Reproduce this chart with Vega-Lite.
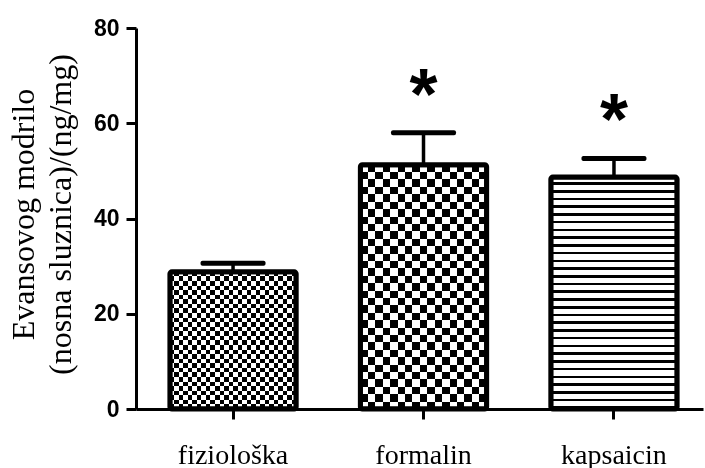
{
"$schema": "https://vega.github.io/schema/vega-lite/v6.json",
"width": 567,
"height": 381,
"autosize": {"type": "none"},
"padding": {"left": 136, "top": 28, "right": 2, "bottom": 59},
"background": "white",
"config": {
  "view": {"stroke": null},
  "axis": {"domainColor": "black", "domainWidth": 3, "tickColor": "black", "tickWidth": 3, "tickSize": 10, "grid": false, "labelColor": "black", "titleColor": "black"},
  "axisX": {"labelAngle": 0, "labelFont": "Liberation Serif", "labelFontSize": 28, "labelFontWeight": "normal", "labelBaseline": "alphabetic", "labelPadding": 44},
  "axisY": {"labelFont": "Liberation Sans", "labelFontSize": 23, "labelFontWeight": "bold", "labelPadding": 7, "titleFont": "Liberation Serif", "titleFontSize": 32, "titleFontWeight": "normal", "titleAngle": -90, "titleX": -103, "titleY": 186, "titleAlign": "center", "titleBaseline": "alphabetic", "titleLineHeight": 37}
},
"data": {"values": [
  {"cat": "fiziološka", "value": 28.8, "hi": 30.6, "star": ""},
  {"cat": "formalin", "value": 51.3, "hi": 58.0, "star": "*"},
  {"cat": "kapsaicin", "value": 48.7, "hi": 52.6, "star": "*"}
]},
"encoding": {
  "x": {"field": "cat", "type": "nominal", "sort": null,
    "scale": {"paddingInner": 0.337, "paddingOuter": 0.157, "align": 0.567},
    "axis": {"title": null}},
  "y": {"field": "value", "type": "quantitative", "scale": {"domain": [0, 80], "nice": false},
    "axis": {"title": ["Evansovog modrilo", "(nosna sluznica)/(ng/mg)"], "values": [0, 20, 40, 60, 80]}}
},
"layer": [
  {"transform": [{"filter": "datum.cat == 'fiziološka'"}],
   "mark": {"type": "bar", "fill": {"gradient": "linear", "x1": 0, "y1": 0, "x2": 0, "y2": 1, "stops": [{"offset":0,"color":"#000"},{"offset":0.0333,"color":"#000"},{"offset":0.0333,"color":"#fff"},{"offset":0.0667,"color":"#fff"},{"offset":0.0667,"color":"#000"},{"offset":0.1,"color":"#000"},{"offset":0.1,"color":"#fff"},{"offset":0.1333,"color":"#fff"},{"offset":0.1333,"color":"#000"},{"offset":0.1667,"color":"#000"},{"offset":0.1667,"color":"#fff"},{"offset":0.2,"color":"#fff"},{"offset":0.2,"color":"#000"},{"offset":0.2333,"color":"#000"},{"offset":0.2333,"color":"#fff"},{"offset":0.2667,"color":"#fff"},{"offset":0.2667,"color":"#000"},{"offset":0.3,"color":"#000"},{"offset":0.3,"color":"#fff"},{"offset":0.3333,"color":"#fff"},{"offset":0.3333,"color":"#000"},{"offset":0.3667,"color":"#000"},{"offset":0.3667,"color":"#fff"},{"offset":0.4,"color":"#fff"},{"offset":0.4,"color":"#000"},{"offset":0.4333,"color":"#000"},{"offset":0.4333,"color":"#fff"},{"offset":0.4667,"color":"#fff"},{"offset":0.4667,"color":"#000"},{"offset":0.5,"color":"#000"},{"offset":0.5,"color":"#fff"},{"offset":0.5333,"color":"#fff"},{"offset":0.5333,"color":"#000"},{"offset":0.5667,"color":"#000"},{"offset":0.5667,"color":"#fff"},{"offset":0.6,"color":"#fff"},{"offset":0.6,"color":"#000"},{"offset":0.6333,"color":"#000"},{"offset":0.6333,"color":"#fff"},{"offset":0.6667,"color":"#fff"},{"offset":0.6667,"color":"#000"},{"offset":0.7,"color":"#000"},{"offset":0.7,"color":"#fff"},{"offset":0.7333,"color":"#fff"},{"offset":0.7333,"color":"#000"},{"offset":0.7667,"color":"#000"},{"offset":0.7667,"color":"#fff"},{"offset":0.8,"color":"#fff"},{"offset":0.8,"color":"#000"},{"offset":0.8333,"color":"#000"},{"offset":0.8333,"color":"#fff"},{"offset":0.8667,"color":"#fff"},{"offset":0.8667,"color":"#000"},{"offset":0.9,"color":"#000"},{"offset":0.9,"color":"#fff"},{"offset":0.9333,"color":"#fff"},{"offset":0.9333,"color":"#000"},{"offset":0.9667,"color":"#000"},{"offset":0.9667,"color":"#fff"},{"offset":1,"color":"#fff"}]}}},
  {"transform": [{"filter": "datum.cat == 'fiziološka'"}],
   "mark": {"type": "bar", "blend": "difference", "fill": {"gradient": "linear", "x1": 0, "y1": 0, "x2": 1, "y2": 0, "stops": [{"offset":0,"color":"#fff"},{"offset":0.0357,"color":"#fff"},{"offset":0.0357,"color":"#000"},{"offset":0.0714,"color":"#000"},{"offset":0.0714,"color":"#fff"},{"offset":0.1071,"color":"#fff"},{"offset":0.1071,"color":"#000"},{"offset":0.1429,"color":"#000"},{"offset":0.1429,"color":"#fff"},{"offset":0.1786,"color":"#fff"},{"offset":0.1786,"color":"#000"},{"offset":0.2143,"color":"#000"},{"offset":0.2143,"color":"#fff"},{"offset":0.25,"color":"#fff"},{"offset":0.25,"color":"#000"},{"offset":0.2857,"color":"#000"},{"offset":0.2857,"color":"#fff"},{"offset":0.3214,"color":"#fff"},{"offset":0.3214,"color":"#000"},{"offset":0.3571,"color":"#000"},{"offset":0.3571,"color":"#fff"},{"offset":0.3929,"color":"#fff"},{"offset":0.3929,"color":"#000"},{"offset":0.4286,"color":"#000"},{"offset":0.4286,"color":"#fff"},{"offset":0.4643,"color":"#fff"},{"offset":0.4643,"color":"#000"},{"offset":0.5,"color":"#000"},{"offset":0.5,"color":"#fff"},{"offset":0.5357,"color":"#fff"},{"offset":0.5357,"color":"#000"},{"offset":0.5714,"color":"#000"},{"offset":0.5714,"color":"#fff"},{"offset":0.6071,"color":"#fff"},{"offset":0.6071,"color":"#000"},{"offset":0.6429,"color":"#000"},{"offset":0.6429,"color":"#fff"},{"offset":0.6786,"color":"#fff"},{"offset":0.6786,"color":"#000"},{"offset":0.7143,"color":"#000"},{"offset":0.7143,"color":"#fff"},{"offset":0.75,"color":"#fff"},{"offset":0.75,"color":"#000"},{"offset":0.7857,"color":"#000"},{"offset":0.7857,"color":"#fff"},{"offset":0.8214,"color":"#fff"},{"offset":0.8214,"color":"#000"},{"offset":0.8571,"color":"#000"},{"offset":0.8571,"color":"#fff"},{"offset":0.8929,"color":"#fff"},{"offset":0.8929,"color":"#000"},{"offset":0.9286,"color":"#000"},{"offset":0.9286,"color":"#fff"},{"offset":0.9643,"color":"#fff"},{"offset":0.9643,"color":"#000"},{"offset":1,"color":"#000"}]}}},
  {"transform": [{"filter": "datum.cat == 'formalin'"}],
   "mark": {"type": "bar", "fill": {"gradient": "linear", "x1": 0, "y1": 0, "x2": 0, "y2": 1, "stops": [{"offset":0,"color":"#000"},{"offset":0.0303,"color":"#000"},{"offset":0.0303,"color":"#fff"},{"offset":0.0606,"color":"#fff"},{"offset":0.0606,"color":"#000"},{"offset":0.0909,"color":"#000"},{"offset":0.0909,"color":"#fff"},{"offset":0.1212,"color":"#fff"},{"offset":0.1212,"color":"#000"},{"offset":0.1515,"color":"#000"},{"offset":0.1515,"color":"#fff"},{"offset":0.1818,"color":"#fff"},{"offset":0.1818,"color":"#000"},{"offset":0.2121,"color":"#000"},{"offset":0.2121,"color":"#fff"},{"offset":0.2424,"color":"#fff"},{"offset":0.2424,"color":"#000"},{"offset":0.2727,"color":"#000"},{"offset":0.2727,"color":"#fff"},{"offset":0.303,"color":"#fff"},{"offset":0.303,"color":"#000"},{"offset":0.3333,"color":"#000"},{"offset":0.3333,"color":"#fff"},{"offset":0.3636,"color":"#fff"},{"offset":0.3636,"color":"#000"},{"offset":0.3939,"color":"#000"},{"offset":0.3939,"color":"#fff"},{"offset":0.4242,"color":"#fff"},{"offset":0.4242,"color":"#000"},{"offset":0.4545,"color":"#000"},{"offset":0.4545,"color":"#fff"},{"offset":0.4848,"color":"#fff"},{"offset":0.4848,"color":"#000"},{"offset":0.5152,"color":"#000"},{"offset":0.5152,"color":"#fff"},{"offset":0.5455,"color":"#fff"},{"offset":0.5455,"color":"#000"},{"offset":0.5758,"color":"#000"},{"offset":0.5758,"color":"#fff"},{"offset":0.6061,"color":"#fff"},{"offset":0.6061,"color":"#000"},{"offset":0.6364,"color":"#000"},{"offset":0.6364,"color":"#fff"},{"offset":0.6667,"color":"#fff"},{"offset":0.6667,"color":"#000"},{"offset":0.697,"color":"#000"},{"offset":0.697,"color":"#fff"},{"offset":0.7273,"color":"#fff"},{"offset":0.7273,"color":"#000"},{"offset":0.7576,"color":"#000"},{"offset":0.7576,"color":"#fff"},{"offset":0.7879,"color":"#fff"},{"offset":0.7879,"color":"#000"},{"offset":0.8182,"color":"#000"},{"offset":0.8182,"color":"#fff"},{"offset":0.8485,"color":"#fff"},{"offset":0.8485,"color":"#000"},{"offset":0.8788,"color":"#000"},{"offset":0.8788,"color":"#fff"},{"offset":0.9091,"color":"#fff"},{"offset":0.9091,"color":"#000"},{"offset":0.9394,"color":"#000"},{"offset":0.9394,"color":"#fff"},{"offset":0.9697,"color":"#fff"},{"offset":0.9697,"color":"#000"},{"offset":1,"color":"#000"}]}}},
  {"transform": [{"filter": "datum.cat == 'formalin'"}],
   "mark": {"type": "bar", "blend": "difference", "fill": {"gradient": "linear", "x1": 0, "y1": 0, "x2": 1, "y2": 0, "stops": [{"offset":0,"color":"#fff"},{"offset":0.0588,"color":"#fff"},{"offset":0.0588,"color":"#000"},{"offset":0.1176,"color":"#000"},{"offset":0.1176,"color":"#fff"},{"offset":0.1765,"color":"#fff"},{"offset":0.1765,"color":"#000"},{"offset":0.2353,"color":"#000"},{"offset":0.2353,"color":"#fff"},{"offset":0.2941,"color":"#fff"},{"offset":0.2941,"color":"#000"},{"offset":0.3529,"color":"#000"},{"offset":0.3529,"color":"#fff"},{"offset":0.4118,"color":"#fff"},{"offset":0.4118,"color":"#000"},{"offset":0.4706,"color":"#000"},{"offset":0.4706,"color":"#fff"},{"offset":0.5294,"color":"#fff"},{"offset":0.5294,"color":"#000"},{"offset":0.5882,"color":"#000"},{"offset":0.5882,"color":"#fff"},{"offset":0.6471,"color":"#fff"},{"offset":0.6471,"color":"#000"},{"offset":0.7059,"color":"#000"},{"offset":0.7059,"color":"#fff"},{"offset":0.7647,"color":"#fff"},{"offset":0.7647,"color":"#000"},{"offset":0.8235,"color":"#000"},{"offset":0.8235,"color":"#fff"},{"offset":0.8824,"color":"#fff"},{"offset":0.8824,"color":"#000"},{"offset":0.9412,"color":"#000"},{"offset":0.9412,"color":"#fff"},{"offset":1,"color":"#fff"}]}}},
  {"transform": [{"filter": "datum.cat == 'kapsaicin'"}],
   "mark": {"type": "bar", "fill": {"gradient": "linear", "x1": 0, "y1": 0, "x2": 0, "y2": 1, "stops": [
    {"offset":0,"color":"#fff"},{"offset":0.0222,"color":"#fff"},{"offset":0.0222,"color":"#000"},{"offset":0.0333,"color":"#000"},
    {"offset":0.0333,"color":"#fff"},{"offset":0.0556,"color":"#fff"},{"offset":0.0556,"color":"#000"},{"offset":0.0667,"color":"#000"},
    {"offset":0.0667,"color":"#fff"},{"offset":0.0889,"color":"#fff"},{"offset":0.0889,"color":"#000"},{"offset":0.1,"color":"#000"},
    {"offset":0.1,"color":"#fff"},{"offset":0.1222,"color":"#fff"},{"offset":0.1222,"color":"#000"},{"offset":0.1333,"color":"#000"},
    {"offset":0.1333,"color":"#fff"},{"offset":0.1556,"color":"#fff"},{"offset":0.1556,"color":"#000"},{"offset":0.1667,"color":"#000"},
    {"offset":0.1667,"color":"#fff"},{"offset":0.1889,"color":"#fff"},{"offset":0.1889,"color":"#000"},{"offset":0.2,"color":"#000"},
    {"offset":0.2,"color":"#fff"},{"offset":0.2222,"color":"#fff"},{"offset":0.2222,"color":"#000"},{"offset":0.2333,"color":"#000"},
    {"offset":0.2333,"color":"#fff"},{"offset":0.2556,"color":"#fff"},{"offset":0.2556,"color":"#000"},{"offset":0.2667,"color":"#000"},
    {"offset":0.2667,"color":"#fff"},{"offset":0.2889,"color":"#fff"},{"offset":0.2889,"color":"#000"},{"offset":0.3,"color":"#000"},
    {"offset":0.3,"color":"#fff"},{"offset":0.3222,"color":"#fff"},{"offset":0.3222,"color":"#000"},{"offset":0.3333,"color":"#000"},
    {"offset":0.3333,"color":"#fff"},{"offset":0.3556,"color":"#fff"},{"offset":0.3556,"color":"#000"},{"offset":0.3667,"color":"#000"},
    {"offset":0.3667,"color":"#fff"},{"offset":0.3889,"color":"#fff"},{"offset":0.3889,"color":"#000"},{"offset":0.4,"color":"#000"},
    {"offset":0.4,"color":"#fff"},{"offset":0.4222,"color":"#fff"},{"offset":0.4222,"color":"#000"},{"offset":0.4333,"color":"#000"},
    {"offset":0.4333,"color":"#fff"},{"offset":0.4556,"color":"#fff"},{"offset":0.4556,"color":"#000"},{"offset":0.4667,"color":"#000"},
    {"offset":0.4667,"color":"#fff"},{"offset":0.4889,"color":"#fff"},{"offset":0.4889,"color":"#000"},{"offset":0.5,"color":"#000"},
    {"offset":0.5,"color":"#fff"},{"offset":0.5222,"color":"#fff"},{"offset":0.5222,"color":"#000"},{"offset":0.5333,"color":"#000"},
    {"offset":0.5333,"color":"#fff"},{"offset":0.5556,"color":"#fff"},{"offset":0.5556,"color":"#000"},{"offset":0.5667,"color":"#000"},
    {"offset":0.5667,"color":"#fff"},{"offset":0.5889,"color":"#fff"},{"offset":0.5889,"color":"#000"},{"offset":0.6,"color":"#000"},
    {"offset":0.6,"color":"#fff"},{"offset":0.6222,"color":"#fff"},{"offset":0.6222,"color":"#000"},{"offset":0.6333,"color":"#000"},
    {"offset":0.6333,"color":"#fff"},{"offset":0.6556,"color":"#fff"},{"offset":0.6556,"color":"#000"},{"offset":0.6667,"color":"#000"},
    {"offset":0.6667,"color":"#fff"},{"offset":0.6889,"color":"#fff"},{"offset":0.6889,"color":"#000"},{"offset":0.7,"color":"#000"},
    {"offset":0.7,"color":"#fff"},{"offset":0.7222,"color":"#fff"},{"offset":0.7222,"color":"#000"},{"offset":0.7333,"color":"#000"},
    {"offset":0.7333,"color":"#fff"},{"offset":0.7556,"color":"#fff"},{"offset":0.7556,"color":"#000"},{"offset":0.7667,"color":"#000"},
    {"offset":0.7667,"color":"#fff"},{"offset":0.7889,"color":"#fff"},{"offset":0.7889,"color":"#000"},{"offset":0.8,"color":"#000"},
    {"offset":0.8,"color":"#fff"},{"offset":0.8222,"color":"#fff"},{"offset":0.8222,"color":"#000"},{"offset":0.8333,"color":"#000"},
    {"offset":0.8333,"color":"#fff"},{"offset":0.8556,"color":"#fff"},{"offset":0.8556,"color":"#000"},{"offset":0.8667,"color":"#000"},
    {"offset":0.8667,"color":"#fff"},{"offset":0.8889,"color":"#fff"},{"offset":0.8889,"color":"#000"},{"offset":0.9,"color":"#000"},
    {"offset":0.9,"color":"#fff"},{"offset":0.9222,"color":"#fff"},{"offset":0.9222,"color":"#000"},{"offset":0.9333,"color":"#000"},
    {"offset":0.9333,"color":"#fff"},{"offset":0.9556,"color":"#fff"},{"offset":0.9556,"color":"#000"},{"offset":0.9667,"color":"#000"},
    {"offset":0.9667,"color":"#fff"},{"offset":0.9889,"color":"#fff"},{"offset":0.9889,"color":"#000"},{"offset":1,"color":"#000"}]}}},
  {"mark": {"type": "bar", "fill": "white", "fillOpacity": 0, "stroke": "black", "strokeWidth": 5, "cornerRadius": 2}},
  {"mark": {"type": "rule", "strokeWidth": 3.5, "color": "black"},
   "encoding": {"y2": {"field": "hi"}}},
  {"mark": {"type": "tick", "size": 65, "thickness": 5, "color": "black", "opacity": 1, "cornerRadius": 2},
   "encoding": {"y": {"field": "hi", "type": "quantitative"}}},
  {"transform": [{"filter": "datum.star != ''"}],
   "mark": {"type": "text", "font": "Liberation Sans", "fontSize": 72, "fontWeight": "bold", "baseline": "alphabetic", "dy": -14, "color": "black"},
   "encoding": {"y": {"field": "hi", "type": "quantitative"}, "text": {"field": "star"}}}
]
}
